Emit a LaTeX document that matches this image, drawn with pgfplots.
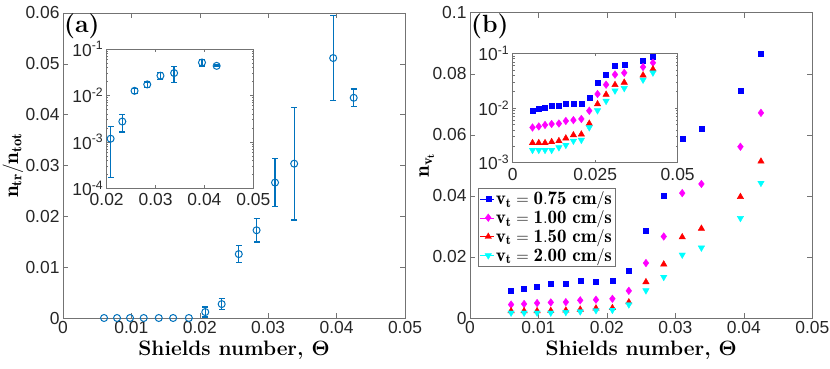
\documentclass[border=0pt]{standalone}
\usepackage{fontspec}
\setsansfont{Liberation Sans}
\usepackage{amsmath}
\usepackage{pgfplots}
\pgfplotsset{compat=1.18}
\usepackage{pgfplotstable}

\definecolor{mblue}{rgb}{0,0.447,0.741}
\definecolor{axgray}{gray}{0.15}
\definecolor{cblue}{rgb}{0,0,1}
\definecolor{cmag}{rgb}{1,0,1}
\definecolor{cred}{rgb}{1,0,0}
\definecolor{ccyan}{rgb}{0,1,1}

% panel (a): fraction of transported particles, with error
\pgfplotstableread{
x y e
0.0060 0 0
0.0079 0 0
0.0098 0 0
0.0118 0 0
0.0140 0 0
0.0161 0 0
0.0184 0 0
0.0208 0.00117 0.0010
0.0232 0.00274 0.0011
0.0257 0.01257 0.0017
0.0283 0.01726 0.0023
0.0310 0.02664 0.0047
0.0338 0.03036 0.0111
0.0395 0.05114 0.0083
0.0425 0.04332 0.0017
}\ratio

% panel (b): n_vt for four threshold velocities
\pgfplotstableread{
x a b c d
0.0060 0.0091 0.0044 0.0023 0.0017
0.0079 0.0097 0.0046 0.0023 0.0017
0.0098 0.0101 0.0049 0.0023 0.0017
0.0118 0.0111 0.0051 0.0024 0.0017
0.0140 0.0111 0.0052 0.0025 0.0019
0.0161 0.0121 0.0058 0.0028 0.0021
0.0184 0.0119 0.0060 0.0032 0.0025
0.0208 0.0121 0.0063 0.0033 0.0026
0.0232 0.0155 0.0089 0.0052 0.0044
0.0257 0.0286 0.0180 0.0118 0.0090
0.0283 0.0402 0.0267 0.0176 0.0134
0.0310 0.0586 0.0409 0.0265 0.0207
0.0338 0.0619 0.0439 0.0293 0.0230
0.0395 0.0746 0.0561 0.0397 0.0327
0.0425 0.0865 0.0672 0.0513 0.0442
}\nvt

\pgfplotsset{
  mstyle/.style={
    scale only axis, clip=false, scaled ticks=false,
    axis background/.style={fill=white},
    axis line style={black!55, line width=0.5bp},
    tick style={black!55, line width=0.5bp},
    major tick length=5bp,
    tick label style={font=\sffamily\fontsize{17.5}{17.5}\selectfont, text=axgray},
    /pgf/number format/assume math mode=true,
    label style={font=\fontsize{21}{21}\selectfont\bfseries, text=black},
  },
  inset/.style={major tick length=3bp, minor tick length=1.8bp, xticklabel shift=2bp},
  errs/.style={error bars/.cd, y dir=both, y explicit,
    error bar style={line width=1.3bp},
    error mark options={rotate=90, mark size=3bp, line width=1.3bp}},
  sa/.style={only marks, mark=square*, cblue, mark size=2.5bp},
  sb/.style={only marks, mark=diamond*, cmag, mark size=3.8bp},
  sc/.style={only marks, mark=triangle*, cred, mark size=3.7bp},
  sd/.style={only marks, mark=triangle*, ccyan, mark size=3.7bp, mark options={rotate=180}},
}

\begin{document}
\begin{tikzpicture}
\path[use as bounding box] (0,0) rectangle (830bp,369bp);

% ---- (a) main
\begin{axis}[mstyle, at={(63bp,51bp)}, anchor=south west, width=342bp, height=305bp,
  xmin=0, xmax=0.05, ymin=0, ymax=0.06,
  xtick={0,0.01,0.02,0.03,0.04,0.05}, xticklabels={0,0.01,0.02,0.03,0.04,0.05},
  ytick={0,0.01,0.02,0.03,0.04,0.05,0.06}, yticklabels={0,0.01,0.02,0.03,0.04,0.05,0.06},
  xlabel={Shields number, $\boldsymbol{\Theta}$},
  ylabel={$\mathbf{n_{tr}/n_{tot}}$},
  ylabel style={at={(axis description cs:-0.146,0.5)}, anchor=center}]
  \addplot[only marks, mark=o, mblue, mark size=3.5bp, line width=1bp,
    skip coords between index={7}{15}] table[x=x,y=y]{\ratio};
  \addplot[only marks, mark=o, mblue, mark size=3.5bp, line width=1bp,
    skip coords between index={0}{7}, errs] table[x=x,y=y,y error=e]{\ratio};
  \node[anchor=north west, inner sep=1bp, font=\fontsize{25}{25}\selectfont\bfseries]
    at (rel axis cs:0,1) {(a)};
\end{axis}

% ---- (a) inset
\begin{axis}[mstyle, inset, at={(106.7bp,180.7bp)}, anchor=south west, width=146.6bp, height=139.3bp,
  xmin=0.02, xmax=0.05, ymode=log, ymin=1e-4, ymax=1e-1,
  xtick={0.02,0.03,0.04,0.05}, xticklabels={0.02,0.03,0.04,0.05},
  ytick={1e-4,1e-3,1e-2,1e-1},
  yticklabels={10\textsuperscript{-4},10\textsuperscript{-3},10\textsuperscript{-2},10\textsuperscript{-1}}]
  \addplot[only marks, mark=o, mblue, mark size=3.5bp, line width=1bp,
    skip coords between index={0}{7}, errs] table[x=x,y=y,y error=e]{\ratio};
\end{axis}

% ---- (b) main
\begin{axis}[mstyle, at={(470bp,51bp)}, anchor=south west, width=342.3bp, height=305.3bp,
  xmin=0, xmax=0.05, ymin=0, ymax=0.1,
  xtick={0,0.01,0.02,0.03,0.04,0.05}, xticklabels={0,0.01,0.02,0.03,0.04,0.05},
  ytick={0,0.02,0.04,0.06,0.08,0.1}, yticklabels={0,0.02,0.04,0.06,0.08,0.1},
  xlabel={Shields number, $\boldsymbol{\Theta}$},
  ylabel={$\mathbf{n_{v_t}}$},
  ylabel style={at={(axis description cs:-0.126,0.5)}, anchor=center},
  legend cell align=left,
  legend image code/.code={\path (0bp,0bp) -- (14bp,0bp); \draw[#1] plot coordinates {(8bp,0bp)};},
  legend style={at={(0.023,0.426)}, anchor=north west, draw=black!55, fill=white,
    font=\fontsize{19}{19}\selectfont, inner sep=2bp, row sep=1.5bp,
    nodes={inner sep=1.5bp}}]
  \addplot[sa] table[x=x,y=a]{\nvt};
  \addlegendentry{$\mathbf{v_t = 0.75\ cm/s}$}
  \addplot[sb] table[x=x,y=b]{\nvt};
  \addlegendentry{$\mathbf{v_t = 1.00\ cm/s}$}
  \addplot[sc] table[x=x,y=c]{\nvt};
  \addlegendentry{$\mathbf{v_t = 1.50\ cm/s}$}
  \addplot[sd] table[x=x,y=d]{\nvt};
  \addlegendentry{$\mathbf{v_t = 2.00\ cm/s}$}
  \node[anchor=north west, inner sep=1bp, font=\fontsize{25}{25}\selectfont\bfseries]
    at (rel axis cs:0,1) {(b)};
\end{axis}

% ---- (b) inset
\begin{axis}[mstyle, inset, at={(512.7bp,206.3bp)}, anchor=south west, width=165bp, height=109.4bp,
  xmin=0, xmax=0.05, ymode=log, ymin=1e-3, ymax=1e-1,
  xtick={0,0.025,0.05}, xticklabels={0,0.025,0.05},
  ytick={1e-3,1e-2,1e-1},
  yticklabels={10\textsuperscript{-3},10\textsuperscript{-2},10\textsuperscript{-1}}]
  \addplot[sa] table[x=x,y=a]{\nvt};
  \addplot[sb] table[x=x,y=b]{\nvt};
  \addplot[sc] table[x=x,y=c]{\nvt};
  \addplot[sd] table[x=x,y=d]{\nvt};
\end{axis}
\end{tikzpicture}
\end{document}
